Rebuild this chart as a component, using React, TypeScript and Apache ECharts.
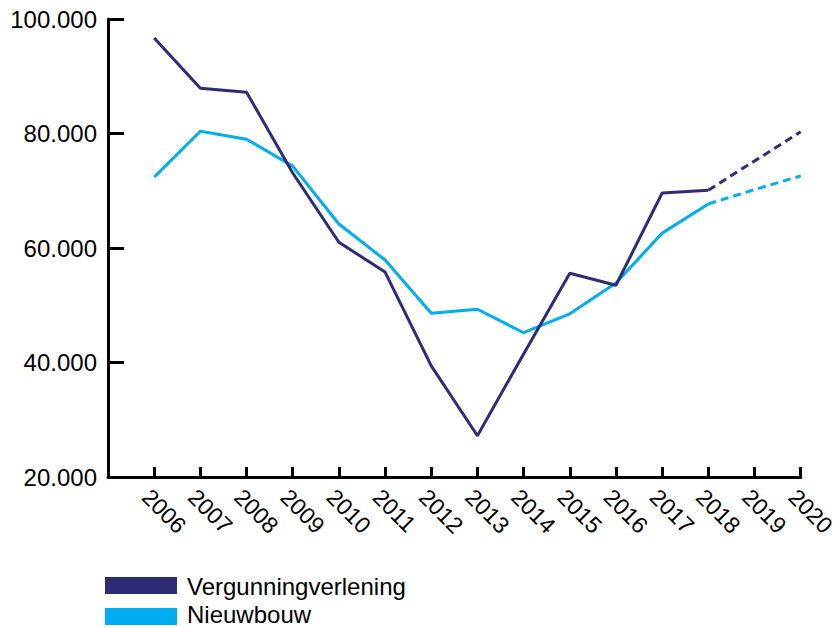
import React, { useEffect, useRef } from "react";
import * as echarts from "echarts";

const years = [2006, 2007, 2008, 2009, 2010, 2011, 2012, 2013, 2014, 2015, 2016, 2017, 2018, 2019, 2020];
const vergunning = [96700, 87900, 87200, 73100, 61000, 55800, 39400, 27200, 41500, 55600, 53500, 69600, 70100];
const vergunningForecast = [70100, 75200, 80300];
const nieuwbouw = [72400, 80400, 79000, 74300, 64200, 57900, 48600, 49300, 45200, 48500, 53900, 62600, 67700];
const nieuwbouwForecast = [67700, 70200, 72600];
const forecastYears = [2018, 2019, 2020];
const yTicks = [20000, 40000, 60000, 80000, 100000];
const seriesNames = ["Vergunningverlening", "Nieuwbouw"];

const NAVY = "#2e2c74";
const CYAN = "#00aeef";
const FONT = "'Liberation Sans', Arial, Helvetica, sans-serif";

export default function App() {
  const ref = useRef<HTMLDivElement>(null);
  useEffect(() => {
    if (!ref.current) return;
    const chart = echarts.init(ref.current, null, { renderer: "svg" });
    const pair = (xs: number[], ys: number[]) => ys.map((v, i) => [xs[i], v]);
    const fmt = (v: number) => {
      const s = String(v);
      return s.length > 3 ? s.slice(0, s.length - 3) + "." + s.slice(-3) : s;
    };
    chart.setOption({
      animation: false,
      grid: { left: 108, right: 38, top: 19, bottom: 150 },
      xAxis: {
        type: "value",
        min: 2005,
        max: 2020,
        interval: 1,
        splitLine: { show: false },
        axisLine: { show: true, lineStyle: { color: "#000", width: 3 } },
        axisTick: { show: true, inside: true, length: 10, lineStyle: { color: "#000", width: 3 } },
        axisLabel: {
          rotate: -45,
          margin: 8,
          fontSize: 23,
          verticalAlign: "top",
          color: "#000",
          fontFamily: FONT,
          showMinLabel: false,
          formatter: (v: number) => (years.includes(v) ? String(v) : ""),
        },
      },
      yAxis: {
        type: "value",
        min: yTicks[0],
        max: yTicks[yTicks.length - 1],
        interval: 20000,
        splitLine: { show: false },
        axisLine: { show: true, lineStyle: { color: "#000", width: 3 } },
        axisTick: { show: true, inside: true, length: 16, lineStyle: { color: "#000", width: 3 } },
        axisLabel: { margin: 11, fontSize: 24, color: "#000", fontFamily: FONT, formatter: fmt },
      },
      series: [
        {
          name: seriesNames[0],
          type: "line",
          data: pair(years, vergunning),
          symbol: "none",
          lineStyle: { color: NAVY, width: 3 },
          z: 3,
        },
        {
          name: seriesNames[0] + " prognose",
          type: "line",
          data: pair(forecastYears, vergunningForecast),
          symbol: "none",
          lineStyle: { color: NAVY, width: 3, type: [8, 5] },
          z: 3,
        },
        {
          name: seriesNames[1],
          type: "line",
          data: pair(years, nieuwbouw),
          symbol: "none",
          lineStyle: { color: CYAN, width: 3 },
          z: 2,
        },
        {
          name: seriesNames[1] + " prognose",
          type: "line",
          data: pair(forecastYears, nieuwbouwForecast),
          symbol: "none",
          lineStyle: { color: CYAN, width: 3, type: [8, 5] },
          z: 2,
        },
      ],
      graphic: [
        { type: "rect", x: 105, y: 577, shape: { width: 72, height: 17 }, style: { fill: NAVY } },
        { type: "rect", x: 105, y: 608, shape: { width: 72, height: 17 }, style: { fill: CYAN } },
        {
          type: "text",
          x: 187,
          y: 586,
          style: {
            text: seriesNames[0], fontSize: 24, lineHeight: 20, fill: "#000", fontFamily: FONT,
            verticalAlign: "middle", align: "left",
          },
        },
        {
          type: "text",
          x: 187,
          y: 614,
          style: {
            text: seriesNames[1], fontSize: 24, lineHeight: 20, fill: "#000", fontFamily: FONT,
            verticalAlign: "middle", align: "left",
          },
        },
      ],
    });
    return () => chart.dispose();
  }, []);
  return <div ref={ref} style={{ width: 839, height: 627, position: "absolute", left: 0, top: 0 }} />;
}
